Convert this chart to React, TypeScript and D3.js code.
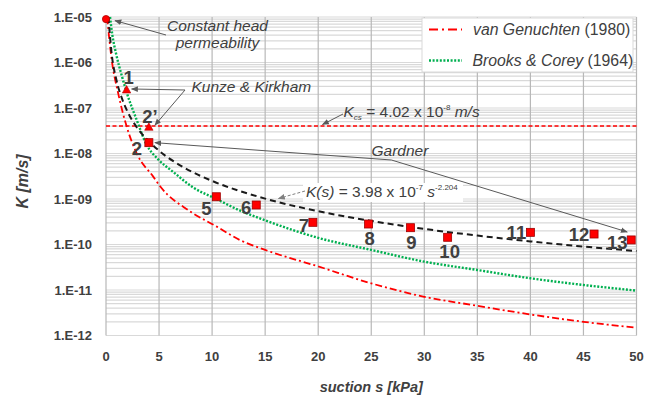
import React from "react";
import * as d3 from "d3";

// suction values (kPa) and conductivity (m/s)
const vgS = [0.1, 0.55, 1.15, 1.95, 2.9, 4.45, 5.1, 7.9, 10.4, 12.6, 15, 20, 25, 30, 35, 40, 45, 50];
const vgK = [1e-5, 1.1e-6, 2.1e-7, 3.9e-8, 1e-8, 3.1e-9, 1.9e-9, 5.4e-10, 2.5e-10, 1.26e-10, 7.6e-11, 3.3e-11, 1.4e-11, 7.1e-12, 4.5e-12, 2.9e-12, 2.0e-12, 1.48e-12];

const bcS = [0.38, 0.6, 0.94, 1.5, 1.95, 2.9, 3.8, 4.9, 6.3, 8.2, 10.4, 12.6, 15, 20, 25, 30, 35, 40, 45, 50];
const bcK = [1e-5, 4e-6, 1.6e-6, 5e-7, 2.2e-7, 5.4e-8, 1.6e-8, 7.5e-9, 4e-9, 1.8e-9, 1.0e-9, 5.6e-10, 3.4e-10, 1.4e-10, 7.6e-11, 4.2e-11, 2.75e-11, 1.81e-11, 1.29e-11, 9.7e-12];

const gardS = [0.23, 0.5, 1, 1.5, 2, 3, 4, 5, 7.5, 10, 15, 20, 25, 30, 35, 40, 45, 50];
const gardK = [1e-5, 1.83e-6, 3.98e-7, 1.63e-7, 8.6e-8, 3.5e-8, 1.9e-8, 1.15e-8, 4.7e-9, 2.5e-9, 1.02e-9, 5.4e-10, 3.3e-10, 2.2e-10, 1.57e-10, 1.17e-10, 9.0e-11, 7.2e-11];

const kcs = 4.02e-8;

const constHeadS = 0;
const constHeadK = 9.0e-6;

const triLabels = ["1", "2\u2019"];
const triS = [1.94, 4.04];
const triK = [2.49e-7, 3.77e-8];

const sqLabels = ["2", "5", "6", "7", "8", "9", "10", "11", "12", "13"];
const sqS = [4.04, 10.4, 14.16, 19.5, 24.75, 28.7, 32.2, 40.0, 46.0, 49.5];
const sqK = [1.73e-8, 1.12e-9, 7.38e-10, 3.07e-10, 2.82e-10, 2.34e-10, 1.44e-10, 1.85e-10, 1.70e-10, 1.26e-10];

const sTicks = [0, 5, 10, 15, 20, 25, 30, 35, 40, 45, 50];
const kTicks = [1e-5, 1e-6, 1e-7, 1e-8, 1e-9, 1e-10, 1e-11, 1e-12];
const kTickLabels = ["1.E-05", "1.E-06", "1.E-07", "1.E-08", "1.E-09", "1.E-10", "1.E-11", "1.E-12"];

// label placement around each marker (px)
const labelOffset: Record<string, [number, number]> = {
  "1": [2, -13], "2\u2019": [1, -11], "2": [-12, 6], "5": [-10, 12], "6": [-10, 2],
  "7": [-9, 3], "8": [1, 14], "9": [1, 15], "10": [2, 14], "11": [-14, 0],
  "12": [-15, 0], "13": [-14, 2],
};

const W = 656;
const H = 401;
const FONT = "'Liberation Sans', Arial, sans-serif";
const TXT = "#404040";
const RED = "#ff0000";
const GREEN = "#00b050";

export default function App() {
  const x = d3.scaleLinear().domain([0, 50]).range([106, 636.5]);
  const y = d3.scaleLog().domain([1e-12, 1e-5]).range([335.5, 17]);

  const mk = (s: number[], k: number[]) =>
    d3.line<number>().x(i => x(s[i])).y(i => y(k[i])).curve(d3.curveMonotoneX)(s.map((_, i) => i)) || "";

  const minor = y.ticks();
  const sq2 = [x(sqS[0]), y(sqK[0])];
  const sq13 = [x(sqS[9]), y(sqK[9])];

  return (
    <svg width={W} height={H} style={{ position: "absolute", left: 0, top: 0, background: "#fff" }} fontFamily={FONT}>
      <defs>
        <marker id="arr" viewBox="0 0 10 10" refX="9" refY="5" markerWidth="7" markerHeight="7" orient="auto-start-reverse">
          <path d="M0,1 L10,5 L0,9 z" fill="#595959" />
        </marker>
        <marker id="arrd" viewBox="0 0 10 10" refX="9" refY="5" markerWidth="7" markerHeight="7" orient="auto">
          <path d="M0,1 L10,5 L0,9 z" fill="#808080" />
        </marker>
      </defs>

      {/* grid */}
      {minor.map((v, i) => (
        <line key={"h" + i} x1={x(0)} x2={x(50)} y1={y(v)} y2={y(v)} stroke="#d9d9d9" strokeWidth={1.2} />
      ))}
      {sTicks.map(s => (
        <line key={"v" + s} x1={x(s)} x2={x(s)} y1={y(1e-5)} y2={y(1e-12)} stroke="#b8b8b8" strokeWidth={1.2} />
      ))}

      {/* tick labels */}
      {kTicks.map((v, i) => (
        <text key={"yt" + i} x={92} y={y(v)} dy="0.35em" textAnchor="end" fontSize={13} fontWeight="bold" fill={TXT}>
          {kTickLabels[i]}
        </text>
      ))}
      {sTicks.map(s => (
        <text key={"xt" + s} x={x(s)} y={356} dy="0.35em" textAnchor="middle" fontSize={13} fontWeight="bold" fill={TXT}>
          {s}
        </text>
      ))}
      <text x={(x(0) + x(50)) / 2} y={392} textAnchor="middle" fontSize={14.5} fontWeight="bold" fontStyle="italic" fill={TXT}>
        suction s [kPa]
      </text>
      <text transform={`translate(28,${y(1e-8) + 28}) rotate(-90)`} textAnchor="middle" fontSize={16} fontWeight="bold" fontStyle="italic" fill={TXT}>
        K [m/s]
      </text>

      {/* K_cs line */}
      <line x1={x(0)} x2={x(50)} y1={y(kcs)} y2={y(kcs)} stroke={RED} strokeWidth={1.5} strokeDasharray="4,2.5" />

      {/* curves */}
      <path d={mk(vgS, vgK)} fill="none" stroke={RED} strokeWidth={1.8} strokeDasharray="7,3,2,3" />
      <path d={mk(bcS, bcK)} fill="none" stroke={GREEN} strokeWidth={2.4} strokeDasharray="2,1.6" />
      <path d={mk(gardS, gardK)} fill="none" stroke="#1a1a1a" strokeWidth={2} strokeDasharray="6,4" />

      {/* annotations */}
      <g fill={TXT} fontSize={15.5} fontStyle="italic">
        <text x={217.5} y={31} textAnchor="middle">Constant head</text>
        <text x={217.5} y={48} textAnchor="middle">permeability</text>
        <text x={191.5} y={92.3}>Kunze &amp; Kirkham</text>
        <text x={371.5} y={156}>Gardner</text>
      </g>
      <g stroke="#595959" strokeWidth={1} fill="none">
        <line x1={166} y1={35} x2={x(constHeadS) + 9} y2={y(constHeadK) + 1.5} markerEnd="url(#arr)" />
        <line x1={185} y1={90} x2={x(triS[0]) + 5} y2={y(triK[0]) - 1} markerEnd="url(#arr)" />
        <line x1={185} y1={90} x2={x(triS[1]) + 6} y2={y(triK[1]) - 2} markerEnd="url(#arr)" />
        <line x1={343} y1={114} x2={322.5} y2={y(kcs) - 1.5} markerEnd="url(#arr)" />
        <polyline points={`${sq2[0] + 6},${sq2[1]} ${x(26.9)},${y(7.2e-9)} ${sq13[0] - 4},${sq13[1] - 8}`}
          markerStart="url(#arr)" markerEnd="url(#arr)" />
      </g>

      {/* K_cs label */}
      <text x={343.5} y={117} fontSize={15.5} fill={TXT}>
        <tspan fontStyle="italic">K</tspan>
        <tspan fontStyle="italic" fontSize={8} dy={3}>cs</tspan>
        <tspan dy={-3}> = 4.02 x 10</tspan>
        <tspan fontSize={8} dy={-7}>-8</tspan>
        <tspan dy={7} fontStyle="italic"> m/s</tspan>
      </text>

      {/* fitted law label */}
      <rect x={303} y={183} width={160} height={19} fill="#fff" />
      <line x1={305} y1={191} x2={278.5} y2={198.5} stroke="#808080" strokeWidth={1} strokeDasharray="3,2" markerEnd="url(#arrd)" />
      <text x={306} y={197} fontSize={15.5} fill={TXT}>
        <tspan fontStyle="italic">K(s)</tspan>
        <tspan> = 3.98 x 10</tspan>
        <tspan fontSize={8} dy={-7}>-7</tspan>
        <tspan dy={7} fontStyle="italic"> s</tspan>
        <tspan fontSize={8} dy={-7}>-2.204</tspan>
      </text>

      {/* markers */}
      <circle cx={x(constHeadS)} cy={y(constHeadK)} r={3.6} fill={RED} stroke="#b00000" strokeWidth={0.8} />
      {triS.map((s, i) => {
        const px = x(s), py = y(triK[i]);
        return (
          <path key={"t" + i} d={`M${px},${py - 4.5} L${px + 4.2},${py + 3} L${px - 4.2},${py + 3} Z`}
            fill={RED} stroke="#b00000" strokeWidth={0.6} />
        );
      })}
      {sqS.map((s, i) => (
        <rect key={"s" + i} x={x(s) - 4} y={y(sqK[i]) - 4} width={8} height={8}
          fill={RED} stroke="#a00000" strokeWidth={0.8} />
      ))}

      {/* point labels */}
      <g fontSize={18.5} fontWeight="bold" fill={TXT} textAnchor="middle">
        {triLabels.map((l, i) => (
          <text key={"tl" + i} x={x(triS[i]) + labelOffset[l][0]} y={y(triK[i]) + labelOffset[l][1]} dy="0.36em">{l}</text>
        ))}
        {sqLabels.map((l, i) => (
          <text key={"sl" + i} x={x(sqS[i]) + labelOffset[l][0]} y={y(sqK[i]) + labelOffset[l][1]} dy="0.36em">{l}</text>
        ))}
      </g>

      {/* legend */}
      <rect x={422} y={18} width={211} height={54} fill="#fff" stroke="#d9d9d9" strokeWidth={1} />
      <line x1={429} x2={462} y1={29.5} y2={29.5} stroke={RED} strokeWidth={2} strokeDasharray="9,4,2,4" />
      <line x1={429} x2={462} y1={60.5} y2={60.5} stroke={GREEN} strokeWidth={2.4} strokeDasharray="2,1.6" />
      <text x={473} y={35} fontSize={15.8} fill={TXT}>
        <tspan fontStyle="italic">van Genuchten</tspan> (1980)
      </text>
      <text x={472.5} y={66} fontSize={15.8} fill={TXT}>
        <tspan fontStyle="italic">Brooks &amp; Corey</tspan> (1964)
      </text>
    </svg>
  );
}
